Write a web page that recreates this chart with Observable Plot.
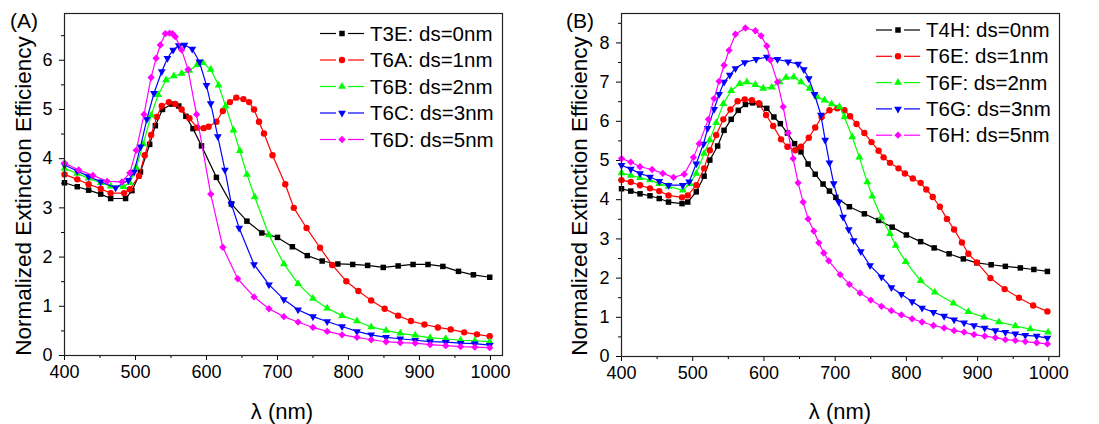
<!DOCTYPE html>
<html><head><meta charset="utf-8">
<script src="https://cdn.jsdelivr.net/npm/d3@7"></script>
<script src="https://cdn.jsdelivr.net/npm/@observablehq/plot@0.6"></script>
<style>
body{margin:0;background:#fff;font-family:Arial,"Liberation Sans",sans-serif;}
#wrap{position:relative;width:1099px;height:424px;overflow:hidden;background:#fff}
.panel{position:absolute;top:0}
#overlay{position:absolute;left:0;top:0;pointer-events:none}
</style></head><body><div id="wrap"><div id="pa" class="panel" style="left:0"></div><div id="pb" class="panel" style="left:550px"></div></div>
<script>
// ---------- Panel A data ----------
const A_T3E_x = [400,418,434,451,465,486,495,507,520,528,538,551,561,571,581,593,614,635,657,678,700,721,742,763,785,806,827,849,870,891,912,933,955,976,999];
const A_T3E_y = [3.51,3.43,3.36,3.28,3.19,3.19,3.35,3.73,4.29,4.67,5.0,5.11,5.07,4.86,4.61,4.26,3.62,3.08,2.73,2.49,2.40,2.21,2.03,1.92,1.86,1.85,1.83,1.79,1.82,1.85,1.85,1.81,1.71,1.64,1.59];
const A_T6A_x = [400,418,434,451,465,484,492,505,513,522,530,537,547,556,565,576,587,596,603,614,623,633,642,652,660,667,674,681,693,711,723,741,760,777,797,814,832,851,870,888,907,926,944,963,981,999];
const A_T6A_y = [3.68,3.58,3.48,3.39,3.30,3.30,3.38,3.65,4.07,4.48,4.85,5.07,5.15,5.11,5.0,4.82,4.63,4.62,4.65,4.75,4.97,5.15,5.24,5.21,5.15,5.0,4.75,4.51,4.07,3.48,3.0,2.59,2.19,1.84,1.51,1.31,1.12,0.95,0.81,0.70,0.63,0.57,0.53,0.47,0.43,0.39];
const A_T6B_x = [400,418,434,451,465,483,492,501,511,522,532,543,554,565,576,587,595,606,617,627,638,647,657,668,688,709,729,750,770,791,812,832,853,873,894,915,937,958,978,999];
const A_T6B_y = [3.80,3.70,3.60,3.51,3.44,3.43,3.51,3.82,4.30,4.88,5.30,5.60,5.68,5.73,5.79,5.91,5.95,5.81,5.49,5.07,4.58,4.16,3.68,3.22,2.45,1.86,1.46,1.16,0.96,0.81,0.70,0.58,0.51,0.45,0.41,0.36,0.34,0.31,0.30,0.28];
const A_T6C_x = [400,418,434,451,472,490,498,507,516,526,537,545,553,561,569,580,590,600,606,616,626,635,646,667,688,709,729,750,770,791,812,832,853,873,894,915,937,958,978,999];
const A_T6C_y = [3.87,3.75,3.64,3.53,3.41,3.56,3.73,4.24,4.80,5.33,5.77,6.04,6.21,6.30,6.31,6.23,5.97,5.49,5.12,4.45,3.77,3.08,2.59,1.85,1.44,1.14,0.93,0.79,0.69,0.59,0.49,0.42,0.37,0.34,0.31,0.28,0.27,0.25,0.24,0.21];
const A_T6D_x = [400,420,440,460,481,492,501,512,522,529,535,542,548,552,556,565,574,586,606,623,644,667,688,709,729,750,770,791,812,832,853,873,894,915,937,958,978,999];
const A_T6D_y = [3.91,3.77,3.66,3.54,3.53,3.71,4.17,4.90,5.65,6.04,6.31,6.54,6.55,6.54,6.48,6.21,5.81,4.90,3.28,2.20,1.56,1.19,0.95,0.79,0.68,0.57,0.49,0.42,0.37,0.32,0.28,0.26,0.25,0.22,0.20,0.18,0.17,0.16];
const A_names = ["T3E: ds=0nm","T6A: ds=1nm","T6B: ds=2nm","T6C: ds=3nm","T6D: ds=5nm"];

// ---------- Panel B data ----------
const B_T4H_x = [400,413,426,440,453,466,485,493,505,516,524,535,544,554,564,574,584,594,604,614,623,633,643,652,662,672,683,692,701,720,741,761,780,800,820,839,860,880,899,919,939,960,979,998];
const B_T4H_y = [4.28,4.22,4.15,4.10,4.03,3.94,3.90,3.94,4.20,4.60,5.01,5.37,5.77,6.05,6.28,6.43,6.47,6.42,6.33,6.11,5.94,5.70,5.43,5.22,4.91,4.65,4.40,4.22,4.06,3.82,3.64,3.47,3.30,3.10,2.93,2.77,2.62,2.49,2.39,2.34,2.30,2.26,2.22,2.17];
const B_T6E_x = [400,413,426,440,453,466,485,493,505,516,524,533,543,553,563,573,583,593,603,613,624,633,644,652,663,672,681,692,703,713,721,730,741,751,761,768,777,789,798,809,820,828,837,847,857,867,878,887,899,918,938,958,978,998];
const B_T6E_y = [4.50,4.45,4.37,4.29,4.22,4.11,4.06,4.11,4.37,4.80,5.26,5.65,6.05,6.30,6.51,6.56,6.54,6.46,6.16,5.88,5.54,5.35,5.26,5.35,5.58,5.84,6.11,6.28,6.33,6.28,6.13,5.93,5.70,5.47,5.25,5.08,4.94,4.80,4.67,4.54,4.43,4.26,4.07,3.82,3.51,3.24,2.91,2.62,2.40,2.0,1.72,1.50,1.30,1.15];
const B_T6F_x = [400,413,426,440,453,466,486,496,505,516,524,533,543,554,566,576,588,599,611,622,631,642,652,664,675,685,695,706,713,724,734,745,752,765,777,785,799,820,840,866,887,909,930,953,974,999];
const B_T6F_y = [4.68,4.62,4.56,4.50,4.41,4.34,4.24,4.41,4.67,5.18,5.52,5.96,6.45,6.78,6.96,7.00,6.93,6.84,6.87,7.00,7.12,7.13,7.00,6.84,6.62,6.54,6.44,6.37,6.11,5.60,5.08,4.45,4.09,3.55,3.13,2.83,2.42,1.93,1.64,1.36,1.14,1.0,0.88,0.78,0.70,0.62];
const B_T6G_x = [400,413,426,440,453,466,486,495,505,515,521,530,537,544,552,560,573,589,604,619,634,648,656,663,671,680,686,692,698,705,711,719,726,736,749,765,779,793,808,822,838,853,867,881,895,910,925,939,953,967,983,998];
const B_T6G_y = [4.88,4.78,4.67,4.58,4.47,4.37,4.37,4.46,4.92,5.42,5.82,6.31,6.69,7.0,7.18,7.35,7.50,7.58,7.64,7.58,7.52,7.46,7.32,7.09,6.69,6.16,5.52,4.94,4.41,3.94,3.56,3.24,2.96,2.68,2.32,2.03,1.76,1.59,1.40,1.24,1.13,1.03,0.94,0.86,0.79,0.73,0.66,0.62,0.58,0.54,0.52,0.47];
const B_T6H_x = [400,413,426,443,458,473,488,501,509,522,530,537,544,551,560,574,588,596,604,609,619,627,634,641,648,655,662,670,677,684,691,707,720,735,750,765,779,793,808,822,838,853,867,881,895,910,925,939,953,967,983,998];
const B_T6H_y = [5.05,4.96,4.84,4.77,4.67,4.57,4.65,5.08,5.43,6.05,6.58,7.02,7.43,7.81,8.22,8.38,8.31,8.18,7.92,7.56,7.00,6.37,5.70,5.05,4.43,3.94,3.51,3.20,2.90,2.64,2.44,2.09,1.84,1.62,1.44,1.28,1.17,1.06,0.96,0.88,0.79,0.73,0.66,0.62,0.56,0.52,0.48,0.43,0.41,0.38,0.35,0.32];
const B_names = ["T4H: ds=0nm","T6E: ds=1nm","T6F: ds=2nm","T6G: ds=3nm","T6H: ds=5nm"];

// ---------- axis ticks ----------
const xMajor = [400,500,600,700,800,900,1000];
const xMinor = [450,550,650,750,850,950];
const A_yMajor = [0,1,2,3,4,5,6];
const A_yMinor = [0.5,1.5,2.5,3.5,4.5,5.5,6.5];
const B_yMajor = [0,1,2,3,4,5,6,7,8];
const B_yMinor = [0.5,1.5,2.5,3.5,4.5,5.5,6.5,7.5,8.5];

// ---------- styles ----------
const colors = ["#000000","#ff0000","#00ff00","#0000ff","#ff00ff"];
const triDown = {draw(ctx, size){const s3=Math.sqrt(3);const y=-Math.sqrt(size/(s3*3));ctx.moveTo(0,-y*2);ctx.lineTo(-s3*y,y);ctx.lineTo(s3*y,y);ctx.closePath();}};
const symbols = [d3.symbolSquare, d3.symbolCircle, d3.symbolTriangle, triDown, d3.symbolDiamond2 || d3.symbolDiamond];
const radii = [3.1, 3.2, 2.9, 2.9, 3.3];
const FONT = "Arial, 'Liberation Sans', sans-serif";

function rows(xs, ys){ return xs.map((x,i)=>({x, y: ys[i]})); }

function makePanel(series, opt){
  const marks = [
    Plot.axisX({ticks: xMajor, tickSize: 5, tickPadding: 5, fontSize: 18, tickFormat: d => String(d), label: null}),
    Plot.axisX({ticks: xMinor, tickSize: 3, tickFormat: () => "", label: null}),
    Plot.axisY({ticks: opt.yMajor, tickSize: 5, tickPadding: 7, fontSize: 18, tickFormat: d => String(d), label: null}),
    Plot.axisY({ticks: opt.yMinor.filter(v => v < opt.yDomain[1]), tickSize: 3, tickFormat: () => "", label: null}),
  ];
  series.forEach((s, i) => {
    const d = rows(s[0], s[1]);
    marks.push(Plot.line(d, {x: "x", y: "y", stroke: colors[i], strokeWidth: 1.2}));
    marks.push(Plot.dot(d, {x: "x", y: "y", fill: colors[i], symbol: symbols[i], r: radii[i], stroke: "none"}));
  });
  marks.push(Plot.frame({stroke: "#222", strokeWidth: 1.2}));
  return Plot.plot({
    width: opt.width, height: 424,
    marginLeft: opt.ml, marginRight: opt.mr, marginTop: 13, marginBottom: opt.mb,
    x: {domain: opt.xDomain},
    y: {domain: opt.yDomain},
    style: {fontFamily: FONT, fontSize: "18px", color: "#000", background: "white"},
    marks
  });
}

const pa = makePanel([[A_T3E_x,A_T3E_y],[A_T6A_x,A_T6A_y],[A_T6B_x,A_T6B_y],[A_T6C_x,A_T6C_y],[A_T6D_x,A_T6D_y]],
  {width: 550, ml: 64, mr: 48, mb: 69, xDomain: [400, 1017], yDomain: [0, 6.95], yMajor: A_yMajor, yMinor: A_yMinor});
const pb = makePanel([[B_T4H_x,B_T4H_y],[B_T6E_x,B_T6E_y],[B_T6F_x,B_T6F_y],[B_T6G_x,B_T6G_y],[B_T6H_x,B_T6H_y]],
  {width: 549, ml: 71, mr: 40, mb: 68, xDomain: [400, 1015], yDomain: [0, 8.75], yMajor: B_yMajor, yMinor: B_yMinor});
document.getElementById("pa").appendChild(pa);
document.getElementById("pb").appendChild(pb);

// ---------- overlay: titles, legends ----------
const ov = d3.select("#wrap").append("svg").attr("id","overlay").attr("width",1099).attr("height",424)
  .style("font-family", FONT);

function legend(names, x0, y0, step){
  names.forEach((n, i) => {
    const y = y0 + i*step;
    const g = ov.append("g");
    g.append("line").attr("x1", x0).attr("x2", x0+16).attr("y1", y).attr("y2", y).attr("stroke", colors[i]).attr("stroke-width", 1.2);
    g.append("line").attr("x1", x0+28).attr("x2", x0+44).attr("y1", y).attr("y2", y).attr("stroke", colors[i]).attr("stroke-width", 1.2);
    g.append("path").attr("transform", `translate(${x0+22},${y})`)
      .attr("d", d3.symbol(symbols[i], Math.PI*radii[i]*radii[i])()).attr("fill", colors[i]);
    g.append("text").attr("x", x0+50).attr("y", y).attr("dy", "0.35em").attr("font-size", 20.5).attr("fill", "#000").text(n);
  });
}
legend(A_names, 320, 33.5, 26.5);
legend(B_names, 876, 30, 26.3);

ov.append("text").attr("x", 10).attr("y", 21).attr("dy","0.35em").attr("font-size", 21).text("(A)");
ov.append("text").attr("x", 566).attr("y", 21).attr("dy","0.35em").attr("font-size", 21).text("(B)");
ov.append("text").attr("x", 282).attr("y", 411).attr("dy","0.35em").attr("text-anchor","middle").attr("font-size", 22).text("λ (nm)");
ov.append("text").attr("x", 840).attr("y", 411).attr("dy","0.35em").attr("text-anchor","middle").attr("font-size", 22).text("λ (nm)");
ov.append("text").attr("transform","translate(23,196) rotate(-90)").attr("dy","0.35em").attr("text-anchor","middle").attr("font-size", 22.5).text("Normalized Extinction Efficiency");
ov.append("text").attr("transform","translate(579,196) rotate(-90)").attr("dy","0.35em").attr("text-anchor","middle").attr("font-size", 22.5).text("Normalized Extinction Efficiency");
</script></body></html>
